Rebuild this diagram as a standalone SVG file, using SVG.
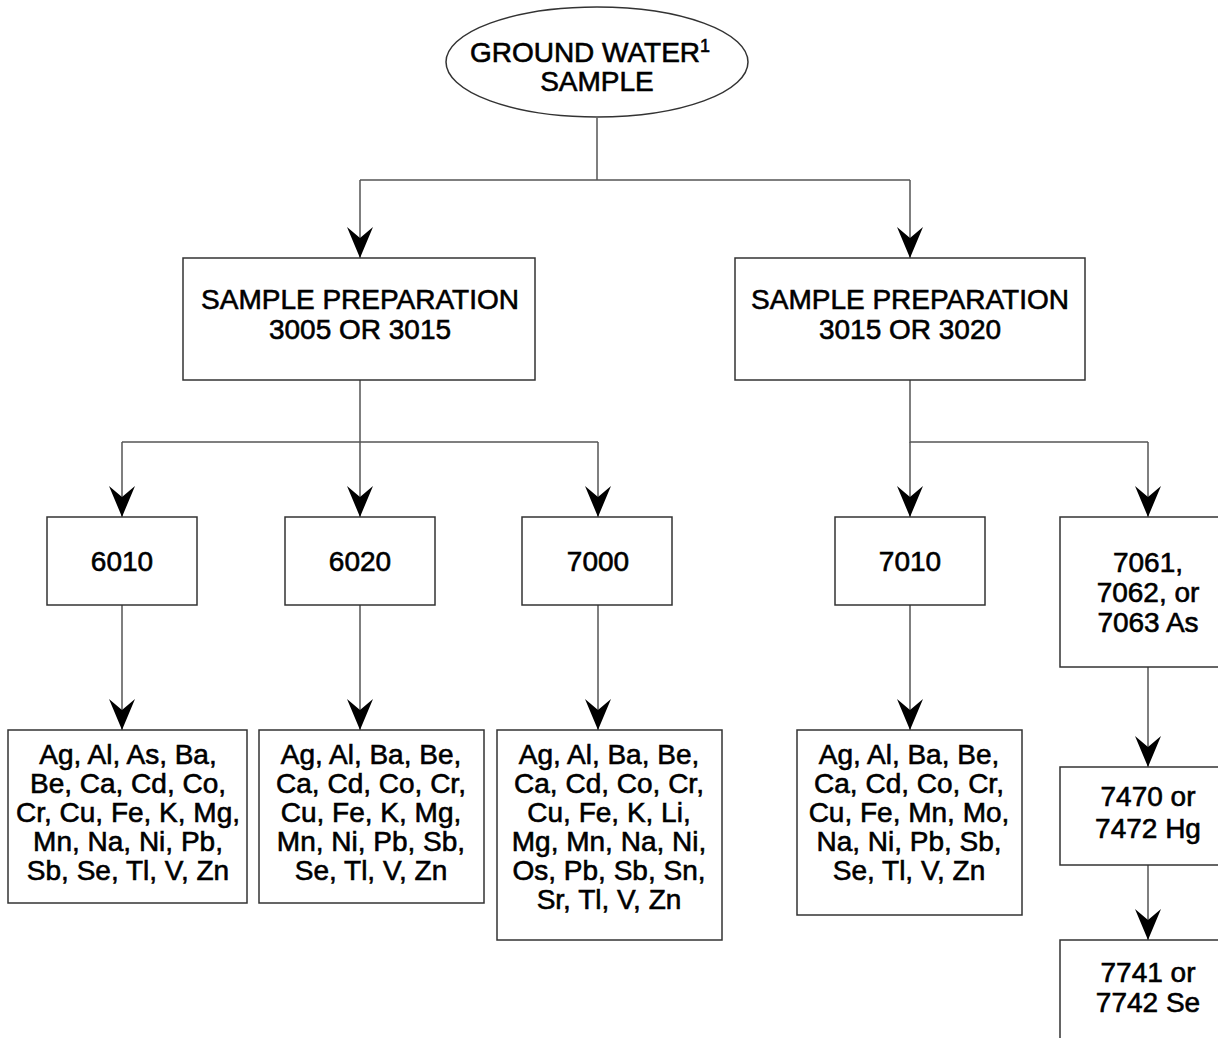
<svg xmlns="http://www.w3.org/2000/svg" width="1218" height="1038" viewBox="0 0 1218 1038">
<style>
.box{fill:#fff;stroke:#333;stroke-width:1.5}
.ln{fill:none;stroke:#555;stroke-width:1.5}
text{font-family:"Liberation Sans",Arial,sans-serif;font-size:28px;fill:#000;stroke:#000;stroke-width:0.6;text-anchor:middle}
</style>
<defs>
<marker id="ah" markerUnits="userSpaceOnUse" markerWidth="34" markerHeight="30" viewBox="-32 -15 34 30" refX="0" refY="0" orient="auto">
<path d="M0,0 L-31,-13 L-20,0 L-31,13 Z" fill="#000"/>
</marker>
</defs>
<rect width="1218" height="1038" fill="#fff"/>
<g id="connectors">
<path class="ln" d="M597,118 V180"/>
<path class="ln" d="M360,180 H910"/>
<path class="ln" d="M360,180 V258" marker-end="url(#ah)"/>
<path class="ln" d="M910,180 V258" marker-end="url(#ah)"/>
<path class="ln" d="M360,380 V442"/>
<path class="ln" d="M122,442 H598"/>
<path class="ln" d="M122,442 V517" marker-end="url(#ah)"/>
<path class="ln" d="M360,442 V517" marker-end="url(#ah)"/>
<path class="ln" d="M598,442 V517" marker-end="url(#ah)"/>
<path class="ln" d="M910,380 V442 H1148"/>
<path class="ln" d="M910,442 V517" marker-end="url(#ah)"/>
<path class="ln" d="M1148,442 V517" marker-end="url(#ah)"/>
<path class="ln" d="M122,605 V730" marker-end="url(#ah)"/>
<path class="ln" d="M360,605 V730" marker-end="url(#ah)"/>
<path class="ln" d="M598,605 V730" marker-end="url(#ah)"/>
<path class="ln" d="M910,605 V730" marker-end="url(#ah)"/>
<path class="ln" d="M1148,667 V767" marker-end="url(#ah)"/>
<path class="ln" d="M1148,865 V940" marker-end="url(#ah)"/>
</g>
<g id="n-sample">
<ellipse class="box" cx="597" cy="62" rx="151" ry="55"/>
<text x="590" y="62">GROUND WATER<tspan font-size="18" dy="-10">1</tspan></text>
<text x="597" y="91">SAMPLE</text>
</g>
<g id="n-prep1">
<rect class="box" x="183" y="258" width="352" height="122"/>
<text x="360" y="309">SAMPLE PREPARATION</text>
<text x="360" y="339">3005 OR 3015</text>
</g>
<g id="n-prep2">
<rect class="box" x="735" y="258" width="350" height="122"/>
<text x="910" y="309">SAMPLE PREPARATION</text>
<text x="910" y="339">3015 OR 3020</text>
</g>
<g id="n-6010">
<rect class="box" x="47" y="517" width="150" height="88"/>
<text x="122" y="571">6010</text>
</g>
<g id="n-6020">
<rect class="box" x="285" y="517" width="150" height="88"/>
<text x="360" y="571">6020</text>
</g>
<g id="n-7000">
<rect class="box" x="522" y="517" width="150" height="88"/>
<text x="598" y="571">7000</text>
</g>
<g id="n-7010">
<rect class="box" x="835" y="517" width="150" height="88"/>
<text x="910" y="571">7010</text>
</g>
<g id="n-7061">
<rect class="box" x="1060" y="517" width="180" height="150"/>
<text x="1148" y="572">7061,</text>
<text x="1148" y="602">7062, or</text>
<text x="1148" y="632">7063 As</text>
</g>
<g id="n-r6010">
<rect class="box" x="8" y="730" width="239" height="173"/>
<text x="128" y="764">Ag, Al, As, Ba,</text>
<text x="128" y="793">Be, Ca, Cd, Co,</text>
<text x="128" y="822">Cr, Cu, Fe, K, Mg,</text>
<text x="128" y="851">Mn, Na, Ni, Pb,</text>
<text x="128" y="880">Sb, Se, Tl, V, Zn</text>
</g>
<g id="n-r6020">
<rect class="box" x="259" y="730" width="225" height="173"/>
<text x="371" y="764">Ag, Al, Ba, Be,</text>
<text x="371" y="793">Ca, Cd, Co, Cr,</text>
<text x="371" y="822">Cu, Fe, K, Mg,</text>
<text x="371" y="851">Mn, Ni, Pb, Sb,</text>
<text x="371" y="880">Se, Tl, V, Zn</text>
</g>
<g id="n-r7000">
<rect class="box" x="497" y="730" width="225" height="210"/>
<text x="609" y="764">Ag, Al, Ba, Be,</text>
<text x="609" y="793">Ca, Cd, Co, Cr,</text>
<text x="609" y="822">Cu, Fe, K, Li,</text>
<text x="609" y="851">Mg, Mn, Na, Ni,</text>
<text x="609" y="880">Os, Pb, Sb, Sn,</text>
<text x="609" y="909">Sr, Tl, V, Zn</text>
</g>
<g id="n-r7010">
<rect class="box" x="797" y="730" width="225" height="185"/>
<text x="909" y="764">Ag, Al, Ba, Be,</text>
<text x="909" y="793">Ca, Cd, Co, Cr,</text>
<text x="909" y="822">Cu, Fe, Mn, Mo,</text>
<text x="909" y="851">Na, Ni, Pb, Sb,</text>
<text x="909" y="880">Se, Tl, V, Zn</text>
</g>
<g id="n-7470">
<rect class="box" x="1060" y="767" width="180" height="98"/>
<text x="1148" y="806">7470 or</text>
<text x="1148" y="838">7472 Hg</text>
</g>
<g id="n-7741">
<rect class="box" x="1060" y="940" width="180" height="120"/>
<text x="1148" y="982">7741 or</text>
<text x="1148" y="1012">7742 Se</text>
</g>
</svg>
